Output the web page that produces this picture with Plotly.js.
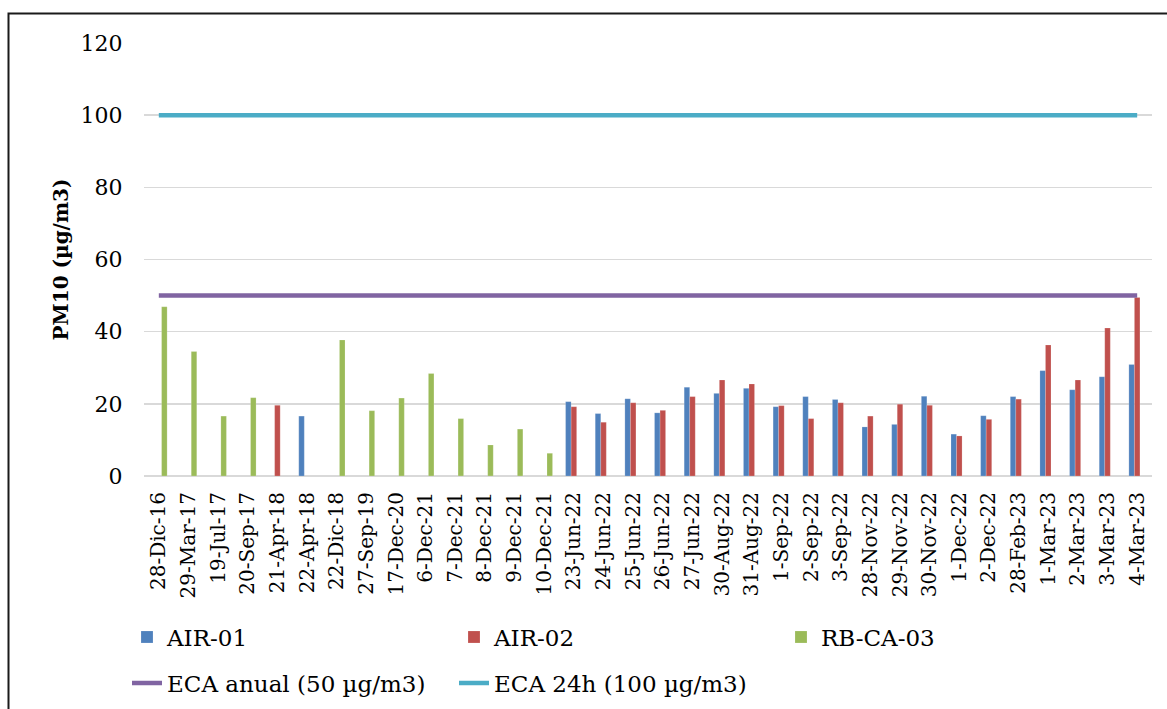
<!DOCTYPE html>
<html>
<head>
<meta charset="utf-8">
<script src="https://cdn.plot.ly/plotly-3.0.1.min.js"></script>
<style>html,body{margin:0;padding:0;background:#fff;}#chart{width:1167px;height:709px;}</style>
</head>
<body>
<div id="chart"></div>
<script>
const categories = ["28-Dic-16","29-Mar-17","19-Jul-17","20-Sep-17","21-Apr-18","22-Apr-18","22-Dic-18","27-Sep-19","17-Dec-20","6-Dec-21","7-Dec-21","8-Dec-21","9-Dec-21","10-Dec-21","23-Jun-22","24-Jun-22","25-Jun-22","26-Jun-22","27-Jun-22","30-Aug-22","31-Aug-22","1-Sep-22","2-Sep-22","3-Sep-22","28-Nov-22","29-Nov-22","30-Nov-22","1-Dec-22","2-Dec-22","28-Feb-23","1-Mar-23","2-Mar-23","3-Mar-23","4-Mar-23"];

const air01 = [null,null,null,null,null,16.6,null,null,null,null,null,null,null,null,20.6,17.3,21.4,17.5,24.6,22.9,24.3,19.2,22.0,21.2,13.6,14.3,22.1,11.6,16.7,22.0,29.2,23.9,27.5,30.9];
const air02 = [null,null,null,null,19.6,null,null,null,null,null,null,null,null,null,19.2,14.9,20.3,18.2,22.0,26.6,25.5,19.5,15.9,20.3,16.6,19.9,19.6,11.1,15.7,21.3,36.3,26.6,41.0,49.5];
const rbca03 = [46.9,34.5,16.6,21.7,null,null,37.7,18.1,21.6,28.4,15.9,8.6,13.0,6.3,null,null,null,null,null,null,null,null,null,null,null,null,null,null,null,null,null,null,null,null];
const ecaAnual = [50,50,50,50,50,50,50,50,50,50,50,50,50,50,50,50,50,50,50,50,50,50,50,50,50,50,50,50,50,50,50,50,50,50];
const eca24h = [100,100,100,100,100,100,100,100,100,100,100,100,100,100,100,100,100,100,100,100,100,100,100,100,100,100,100,100,100,100,100,100,100,100];
const yTicks = [0,20,40,60,80,100,120];

const W = 1167, H = 709;
const M = {l:144, r:15, t:43, b:233};
const pw = W - M.l - M.r, ph = H - M.t - M.b;
const toPX = px => (px - M.l) / pw;
const toPY = py => (H - M.b - py) / ph;

const serif = "DejaVu Serif, Liberation Serif, serif";

const traces = [
  {type:'bar', name:'AIR-01', x:categories, y:air01, marker:{color:'#4F81BD', line:{color:'rgba(255,255,255,0.35)', width:0.5}}, legend:'legend'},
  {type:'bar', name:'AIR-02', x:categories, y:air02, marker:{color:'#C0504D', line:{color:'rgba(255,255,255,0.35)', width:0.5}}, legend:'legend'},
  {type:'bar', name:'RB-CA-03', x:categories, y:rbca03, marker:{color:'#9BBB59', line:{color:'rgba(255,255,255,0.35)', width:0.5}}, legend:'legend'},
  {type:'scatter', mode:'lines', name:'ECA anual (50 µg/m3)', x:categories, y:ecaAnual, line:{color:'#8064A2', width:4.5}, legend:'legend2'},
  {type:'scatter', mode:'lines', name:'ECA 24h (100 µg/m3)', x:categories, y:eca24h, line:{color:'#4BACC6', width:4.5}, legend:'legend2'}
];

const legendBase = {
  orientation:'h', xref:'container', yref:'container', xanchor:'left', yanchor:'middle',
  font:{family:serif, size:23, color:'#000'}, bgcolor:'rgba(0,0,0,0)',
  entrywidth:282, entrywidthmode:'pixels', itemclick:false
};

const layout = {
  width:W, height:H,
  margin:M,
  paper_bgcolor:'#fff', plot_bgcolor:'#fff',
  barmode:'group', bargap:0.44, bargroupgap:0,
  showlegend:true,
  xaxis:{
    type:'category', tickangle:-90, showgrid:false, zeroline:false, showline:false,
    ticks:'outside', ticklen:7, tickcolor:'rgba(0,0,0,0)',
    tickfont:{family:serif, size:20, color:'#000'}, fixedrange:true
  },
  yaxis:{
    range:[0,120], tickvals:yTicks, ticktext:yTicks.map(String),
    showgrid:true, gridcolor:'#d9d9d9', gridwidth:1.5,
    zeroline:true, zerolinecolor:'#d9d9d9', zerolinewidth:1.5, showline:false,
    ticks:'outside', ticklen:16, tickcolor:'rgba(0,0,0,0)',
    tickfont:{family:serif, size:22, color:'#000'},
    title:{text:'PM10 (µg/m3)', font:{family:serif, size:20, color:'#000', weight:'bold'}, standoff:6},
    fixedrange:true
  },
  legend:Object.assign({}, legendBase, {x:127/W, y:1-637/H}),
  legend2:Object.assign({}, legendBase, {x:127/W, y:1-683/H}),
  shapes:[
    {type:'rect', xref:'paper', yref:'paper', x0:toPX(8.5), x1:toPX(1200), y0:toPY(13.5), y1:toPY(760),
     line:{color:'#1a1a1a', width:2}, fillcolor:'rgba(0,0,0,0)', layer:'above'}
  ]
};

Plotly.newPlot('chart', traces, layout, {displayModeBar:false, staticPlot:true});
</script>
</body>
</html>
